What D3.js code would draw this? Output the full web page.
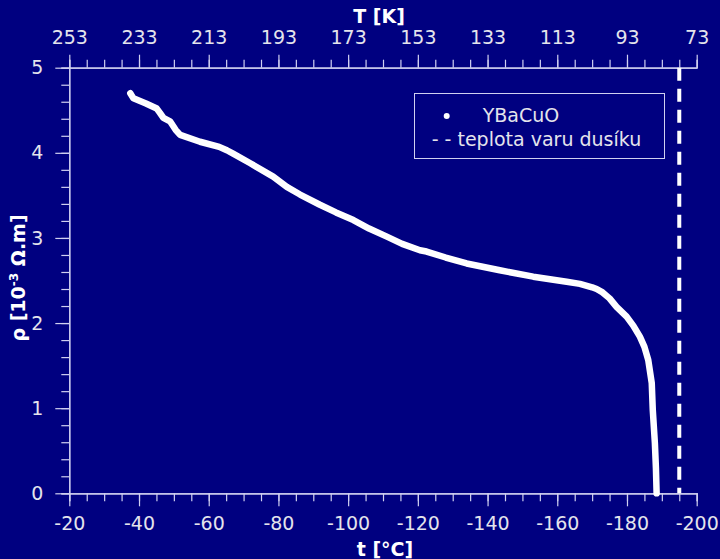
<!DOCTYPE html>
<html>
<head>
<meta charset="utf-8">
<script src="https://cdn.jsdelivr.net/npm/d3@7"></script>
<style>
  html, body { margin: 0; padding: 0; background: #000080; }
  svg { display: block; font-family: 'DejaVu Sans', sans-serif; }
</style>
</head>
<body>
<svg id="chart" width="720" height="559"></svg>
<script>
const tempC = [-37.5, -38.4, -42, -45.1, -46.0, -47.0, -48.9, -50.5, -51.8, -57.5, -63, -65.2, -67, -71.8, -78.5,
  -82.4, -86.2, -91.9, -96.5, -101.5, -106, -111.1, -115.5, -120.6, -122.5, -128, -134, -143.5, -153.1, -162.7,
  -166.5, -170, -171.3, -173, -175, -177, -179.9, -181.8, -183.7, -185, -186.1, -187.1, -187.4, -188.0, -188.3, -188.5]
const rho = [4.70, 4.64, 4.58, 4.52, 4.47, 4.41, 4.37, 4.27, 4.21, 4.13, 4.07, 4.03, 3.99, 3.88, 3.72,
  3.60, 3.51, 3.39, 3.30, 3.21, 3.11, 3.015, 2.93, 2.855, 2.84, 2.77, 2.70, 2.62, 2.545, 2.486,
  2.46, 2.42, 2.40, 2.36, 2.29, 2.19, 2.075, 1.97, 1.84, 1.72, 1.566, 1.296, 0.978, 0.59, 0.3, 0.0]

const nitrogenBoilC = -195
const xDomain = [-20, -200]
const yDomain = [0, 5]
const xTicks = d3.range(-20, -201, -20)
const kelvinTicks = d3.range(253, 72, -20)
const yTicks = d3.range(0, 6, 1)
const legendLabels = ['YBaCuO', '- - teplota varu dusíku']

const margin = { top: 67.7, right: 23.3, bottom: 65.7, left: 69.3 }
const width = 720
const height = 559
const aWidth = width - margin.left - margin.right
const aHeight = height - margin.top - margin.bottom

const AXIS = '#d0d0f0'
const TEXT = '#e4e4ec'

const svg = d3.select('#chart')
const g = svg.append('g')
  .attr('transform', 'translate(' + margin.left + ',' + margin.top + ')')

const xScale = d3.scaleLinear().domain(xDomain).range([0, aWidth])
const kScale = d3.scaleLinear().domain([xDomain[0] + 273, xDomain[1] + 273]).range([0, aWidth])
const yScale = d3.scaleLinear().domain(yDomain).range([aHeight, 0])

function styleAxis (sel) {
  sel.selectAll('path, line').attr('stroke', AXIS).attr('stroke-width', 1.2)
  sel.selectAll('text').attr('fill', TEXT).attr('font-size', 19)
    .attr('font-family', "'DejaVu Sans', sans-serif")
}

// minor ticks
g.append('g').attr('transform', 'translate(0,' + aHeight + ')')
  .call(d3.axisBottom(xScale).tickValues(d3.range(-20, -201, -5)).tickSize(8).tickFormat(''))
  .call(styleAxis)
g.append('g')
  .call(d3.axisTop(kScale).tickValues(d3.range(253, 72, -5)).tickSize(8).tickFormat(''))
  .call(styleAxis)
g.append('g')
  .call(d3.axisLeft(yScale).tickValues(d3.range(0, 5.01, 0.2)).tickSize(8).tickFormat(''))
  .call(styleAxis)

// major ticks
g.append('g').attr('transform', 'translate(0,' + aHeight + ')')
  .call(d3.axisBottom(xScale).tickValues(xTicks).tickSize(13).tickSizeOuter(0).tickPadding(10).tickFormat(d3.format('d')))
  .call(styleAxis)
g.append('g')
  .call(d3.axisTop(kScale).tickValues(kelvinTicks).tickSize(13).tickSizeOuter(0).tickPadding(11).tickFormat(d3.format('d')))
  .call(styleAxis)
g.append('g')
  .call(d3.axisLeft(yScale).tickValues(yTicks).tickSize(14).tickSizeOuter(0).tickPadding(12).tickFormat(d3.format('d')))
  .call(styleAxis)

svg.selectAll('.domain').attr('stroke', AXIS)
// hyphen minus like the original
svg.selectAll('.tick text').text(function () { return this.textContent.replace('−', '-') })

// nitrogen boiling point
g.append('line')
  .attr('x1', xScale(nitrogenBoilC)).attr('x2', xScale(nitrogenBoilC))
  .attr('y1', 0).attr('y2', aHeight)
  .attr('stroke', '#ffffff').attr('stroke-width', 4)
  .attr('stroke-dasharray', '13,8')

// data
const data = tempC.map((t, i) => ({ t: t, r: rho[i] }))
const line = d3.line().x(d => xScale(d.t)).y(d => yScale(d.r))
g.append('path')
  .datum(data)
  .attr('fill', 'none')
  .attr('stroke', '#ffffff')
  .attr('stroke-width', 6.5)
  .attr('stroke-linejoin', 'round')
  .attr('stroke-linecap', 'round')
  .attr('d', line)

// legend
const lg = svg.append('g')
lg.append('rect')
  .attr('x', 414.5).attr('y', 93.5).attr('width', 250).attr('height', 65)
  .attr('fill', 'none').attr('stroke', AXIS).attr('stroke-width', 1)
lg.append('circle').attr('cx', 446.7).attr('cy', 116).attr('r', 3).attr('fill', '#ffffff')
lg.append('text').attr('x', 482.7).attr('y', 122).attr('fill', TEXT).attr('font-size', 19).text(legendLabels[0])
lg.append('text').attr('x', 431.7).attr('y', 146).attr('fill', TEXT).attr('font-size', 19).text(legendLabels[1])

// axis titles
svg.append('text')
  .attr('x', 379).attr('y', 22.5).attr('text-anchor', 'middle')
  .attr('fill', '#ffffff').attr('font-size', 19).attr('font-weight', 'bold')
  .text('T [K]')
svg.append('text')
  .attr('x', 385).attr('y', 556).attr('text-anchor', 'middle')
  .attr('fill', '#ffffff').attr('font-size', 19).attr('font-weight', 'bold')
  .text('t [°C]')
const yTitle = svg.append('text')
  .attr('transform', 'translate(24.5,278) rotate(-90)')
  .attr('text-anchor', 'middle')
  .attr('fill', '#ffffff').attr('font-size', 19).attr('font-weight', 'bold')
yTitle.append('tspan').text('ρ [10')
yTitle.append('tspan').attr('font-size', 12).attr('dy', -7).text('-3')
yTitle.append('tspan').attr('dy', 7).text(' Ω.m]')
</script>
</body>
</html>
